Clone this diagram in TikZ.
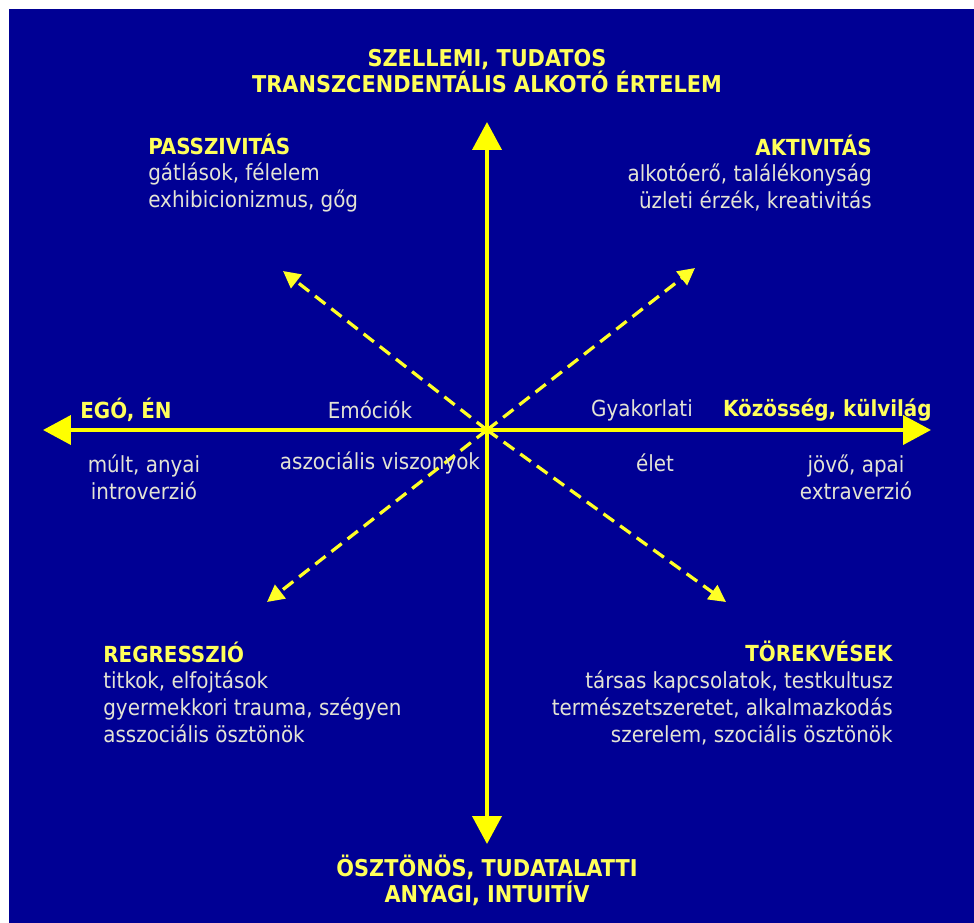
\documentclass[tikz,border=0pt]{standalone}
\usepackage{fontspec}
\setmainfont{DejaVu Sans Condensed}
\usetikzlibrary{arrows.meta}
\definecolor{slideblue}{RGB}{0,0,148}
\definecolor{axisyellow}{RGB}{255,255,0}
\definecolor{headyellow}{RGB}{255,255,90}
\definecolor{bodygray}{RGB}{228,228,212}

\begin{document}
\begin{tikzpicture}[x=0.02cm,y=-0.02cm,line join=round]
\tikzset{
    axis/.style=  {draw=axisyellow, line width=0.08cm, -{Triangle[length=0.56cm,width=0.58cm]}},
    diag/.style=  {draw=axisyellow!85!white, line width=0.065cm, dash pattern=on 0.26cm off 0.15cm,
                   -{Triangle[length=0.34cm,width=0.34cm]}},
    title/.style= {text=headyellow, inner sep=0pt, align=center, font=\fontsize{13.2}{14.8}\selectfont\bfseries},
    head/.style=  {text=headyellow, inner sep=0pt, font=\fontsize{12.6}{15}\selectfont\bfseries},
    body/.style=  {text=bodygray, inner sep=0pt, font=\fontsize{12.6}{15.2}\selectfont},
}
%% Background and frame of the slide
\useasboundingbox (0,0) rectangle (974,923);
\fill[slideblue] (9,9) rectangle (974,923);

%% Centre and ends of the axes
\coordinate (c) at (487,430);
\coordinate (up) at (487,122);
\coordinate (down) at (487,844);
\coordinate (left) at (43,430);
\coordinate (right) at (931,430);
\coordinate (ul) at (283,271);
\coordinate (ur) at (695,268);
\coordinate (dl) at (267,602);
\coordinate (dr) at (726,602);

\draw[diag] (c) -- (ul);
\draw[diag] (c) -- (ur);
\draw[diag] (c) -- (dl);
\draw[diag] (c) -- (dr);
\draw[axis] (c) -- (up);
\draw[axis] (c) -- (down);
\draw[axis] (c) -- (left);
\draw[axis] (c) -- (right);

%% Poles
\node[title] (spirit) at (487,71) {SZELLEMI, TUDATOS\\TRANSZCENDENTÁLIS ALKOTÓ ÉRTELEM};
\node[title] (instinct) at (487,880) {ÖSZTÖNÖS, TUDATALATTI\\ANYAGI, INTUITÍV};
\node[head, anchor=west] (ego) at (80,410) {EGÓ, ÉN};
\node[head, anchor=east] (world) at (932,410) {Közösség, külvilág};

%% Quadrants
\node[body, anchor=west, align=left] (passive) at (148,173)
    {\textcolor{headyellow}{\bfseries PASSZIVITÁS}\\gátlások, félelem\\exhibicionizmus, gőg};
\node[body, anchor=east, align=right] (active) at (872,173)
    {\textcolor{headyellow}{\bfseries AKTIVITÁS}\\alkotóerő, találékonyság\\üzleti érzék, kreativitás};
\node[body, anchor=west, align=left] (regress) at (103,692)
    {\textcolor{headyellow}{\bfseries REGRESSZIÓ}\\titkok, elfojtások\\gyermekkori trauma, szégyen\\asszociális ösztönök};
\node[body, anchor=east, align=right] (strive) at (893,693)
    {\textcolor{headyellow}{\bfseries TÖREKVÉSEK}\\társas kapcsolatok, testkultusz\\természetszeretet, alkalmazkodás\\szerelem, szociális ösztönök};

%% Along the horizontal axis
\node[body] (emo) at (370,410) {Emóciók};
\node[body] (asoc) at (380,463) {aszociális viszonyok};
\node[body] (prac) at (642,410) {Gyakorlati};
\node[body] (life) at (655,463) {élet};
\node[body, align=center] (past) at (144,477) {múlt, anyai\\introverzió};
\node[body, align=center] (future) at (856,477) {jövő, apai\\extraverzió};

\end{tikzpicture}
\end{document}
